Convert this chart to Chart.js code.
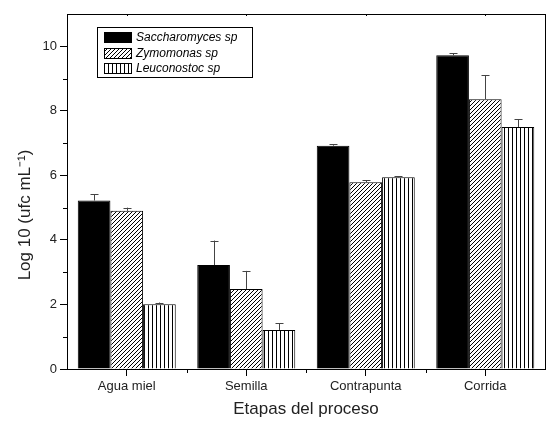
<!DOCTYPE html>
<html>
<head>
<meta charset="utf-8">
<script src="https://cdn.jsdelivr.net/npm/chart.js@4.4.1/dist/chart.umd.min.js"></script>
<style>
	html, body { margin: 0; padding: 0; background: #fff; }
	#wrap { width: 546px; height: 422px; }
</style>
</head>
<body>
<div id="wrap"><canvas id="chart" width="546" height="422"></canvas></div>
<script>
const etapas = ['Agua miel', 'Semilla', 'Contrapunta', 'Corrida'];
const especies = ['Saccharomyces sp', 'Zymomonas sp', 'Leuconostoc sp'];

const saccharomyces = [5.22, 3.22, 6.92, 9.72];
const zymomonas = [4.90, 2.48, 5.79, 8.36];
const leuconostoc = [2.01, 1.21, 5.94, 7.50];

const errSaccharomyces = [0.2, 0.76, 0.04, 0.07];
const errZymomonas = [0.1, 0.56, 0.06, 0.75];
const errLeuconostoc = [0.05, 0.2, 0.04, 0.24];

const yTicks = [0, 2, 4, 6, 8, 10];
const yTitle = 'Log 10 (ufc mL\u207B\u00B9)';

const FONT = '"Liberation Sans", Arial, sans-serif';

function makePattern(kind) {
	const c = document.createElement('canvas');
	const ctx = c.getContext('2d');
	c.width = 4;
	c.height = 4;
	ctx.fillStyle = '#fff';
	ctx.fillRect(0, 0, 4, 4);
	ctx.strokeStyle = '#000';
	ctx.lineWidth = 1;
	ctx.beginPath();
	if (kind === 'diag') {
		ctx.moveTo(-1, 5); ctx.lineTo(5, -1);
		ctx.moveTo(-1, 1); ctx.lineTo(1, -1);
		ctx.moveTo(3, 5); ctx.lineTo(5, 3);
	} else {
		ctx.moveTo(0.5, 0); ctx.lineTo(0.5, 4);
	}
	ctx.stroke();
	return ctx.createPattern(c, 'repeat');
}

const fills = ['#000', makePattern('diag'), makePattern('vert')];
const values = [saccharomyces, zymomonas, leuconostoc];
const errors = [errSaccharomyces, errZymomonas, errLeuconostoc];

const framePlugin = {
	id: 'frame',
	afterDatasetsDraw(chart) {
		const { ctx, chartArea: a, scales: { x, y } } = chart;
		ctx.save();
		// error bars (upper only)
		ctx.strokeStyle = '#444';
		ctx.lineWidth = 1;
		chart.data.datasets.forEach((ds, i) => {
			const meta = chart.getDatasetMeta(i);
			meta.data.forEach((bar, j) => {
				const top = y.getPixelForValue(ds.data[j] + ds.errors[j]);
				const px = Math.round(bar.x) + 0.5;
				ctx.beginPath();
				ctx.moveTo(px, bar.y);
				ctx.lineTo(px, top);
				ctx.moveTo(px - 4, Math.round(top) + 0.5);
				ctx.lineTo(px + 4, Math.round(top) + 0.5);
				ctx.stroke();
			});
		});
		// frame
		ctx.strokeStyle = '#000';
		ctx.strokeRect(a.left + 0.5, a.top + 0.5, a.right - a.left, a.bottom - a.top);
		ctx.beginPath();
		// minor y ticks
		for (let v = 1; v < 11; v += 2) {
			const py = Math.round(y.getPixelForValue(v)) + 0.5;
			ctx.moveTo(a.left - 4, py);
			ctx.lineTo(a.left, py);
		}
		// minor x ticks at category boundaries
		const step = (a.right - a.left) / etapas.length;
		for (let k = 1; k < etapas.length; k++) {
			const px = Math.round(a.left + k * step) + 0.5;
			ctx.moveTo(px, a.bottom);
			ctx.lineTo(px, a.bottom + 4);
		}
		// small top ticks
		for (let k = 0; k < etapas.length; k++) {
			const px = Math.round(x.getPixelForValue(k)) + 0.5;
			ctx.moveTo(px, a.top);
			ctx.lineTo(px, a.top + 2);
		}
		ctx.stroke();

		// y title, sits a bit below the axis middle like the original
		ctx.save();
		ctx.translate(25, 215);
		ctx.rotate(-Math.PI / 2);
		ctx.font = '17px ' + FONT;
		ctx.fillStyle = '#222';
		ctx.textAlign = 'center';
		ctx.textBaseline = 'middle';
		ctx.fillText(yTitle, 0, 0);
		ctx.restore();

		// legend
		const lx = 97, ly = 27, lw = 155, lh = 50;
		ctx.fillStyle = '#fff';
		ctx.fillRect(lx, ly, lw, lh);
		ctx.strokeRect(lx + 0.5, ly + 0.5, lw, lh);
		ctx.font = 'italic 12px ' + FONT;
		ctx.textBaseline = 'middle';
		chart.data.datasets.forEach((ds, i) => {
			const cy = ly + 10 + i * 15.5;
			ctx.fillStyle = ds.backgroundColor;
			ctx.fillRect(104, Math.round(cy - 5), 27, 10);
			ctx.strokeRect(104.5, Math.round(cy - 5) + 0.5, 27, 10);
			ctx.fillStyle = '#000';
			ctx.fillText(ds.label, 136, cy + 1);
		});
		ctx.restore();
	}
};

new Chart(document.getElementById('chart').getContext('2d'), {
	type: 'bar',
	data: {
		labels: etapas,
		datasets: especies.map((name, i) => ({
			label: name,
			data: values[i],
			errors: errors[i],
			backgroundColor: fills[i],
			borderColor: '#000',
			borderWidth: 1,
			borderSkipped: 'bottom'
		}))
	},
	options: {
		responsive: false,
		animation: false,
		devicePixelRatio: 1,
		layout: { padding: { top: 14, right: 1, left: 0, bottom: 0 } },
		datasets: {
			bar: { categoryPercentage: 0.82, barPercentage: 1 }
		},
		scales: {
			x: {
				afterFit: s => { s.height = 53; },
				grid: {
					offset: false,
					drawOnChartArea: false,
					tickLength: 7,
					color: '#000'
				},
				border: { display: true, color: '#000' },
				ticks: {
					color: '#222',
					padding: 3,
					font: { family: FONT, size: 13 }
				},
				title: {
					display: true,
					text: 'Etapas del proceso',
					color: '#222',
					padding: { top: 0, bottom: 2 },
					font: { family: FONT, size: 17 }
				}
			},
			y: {
				min: 0,
				max: 11,
				afterFit: s => { s.width = 67; },
				afterBuildTicks: s => { s.ticks = yTicks.map(v => ({ value: v })); },
				grid: {
					drawOnChartArea: false,
					tickLength: 7,
					color: '#000'
				},
				border: { display: true, color: '#000' },
				ticks: {
					color: '#222',
					padding: 3,
					font: { family: FONT, size: 13 }
				}
			}
		},
		plugins: {
			legend: { display: false },
			tooltip: { enabled: false }
		}
	},
	plugins: [framePlugin]
});
</script>
</body>
</html>
